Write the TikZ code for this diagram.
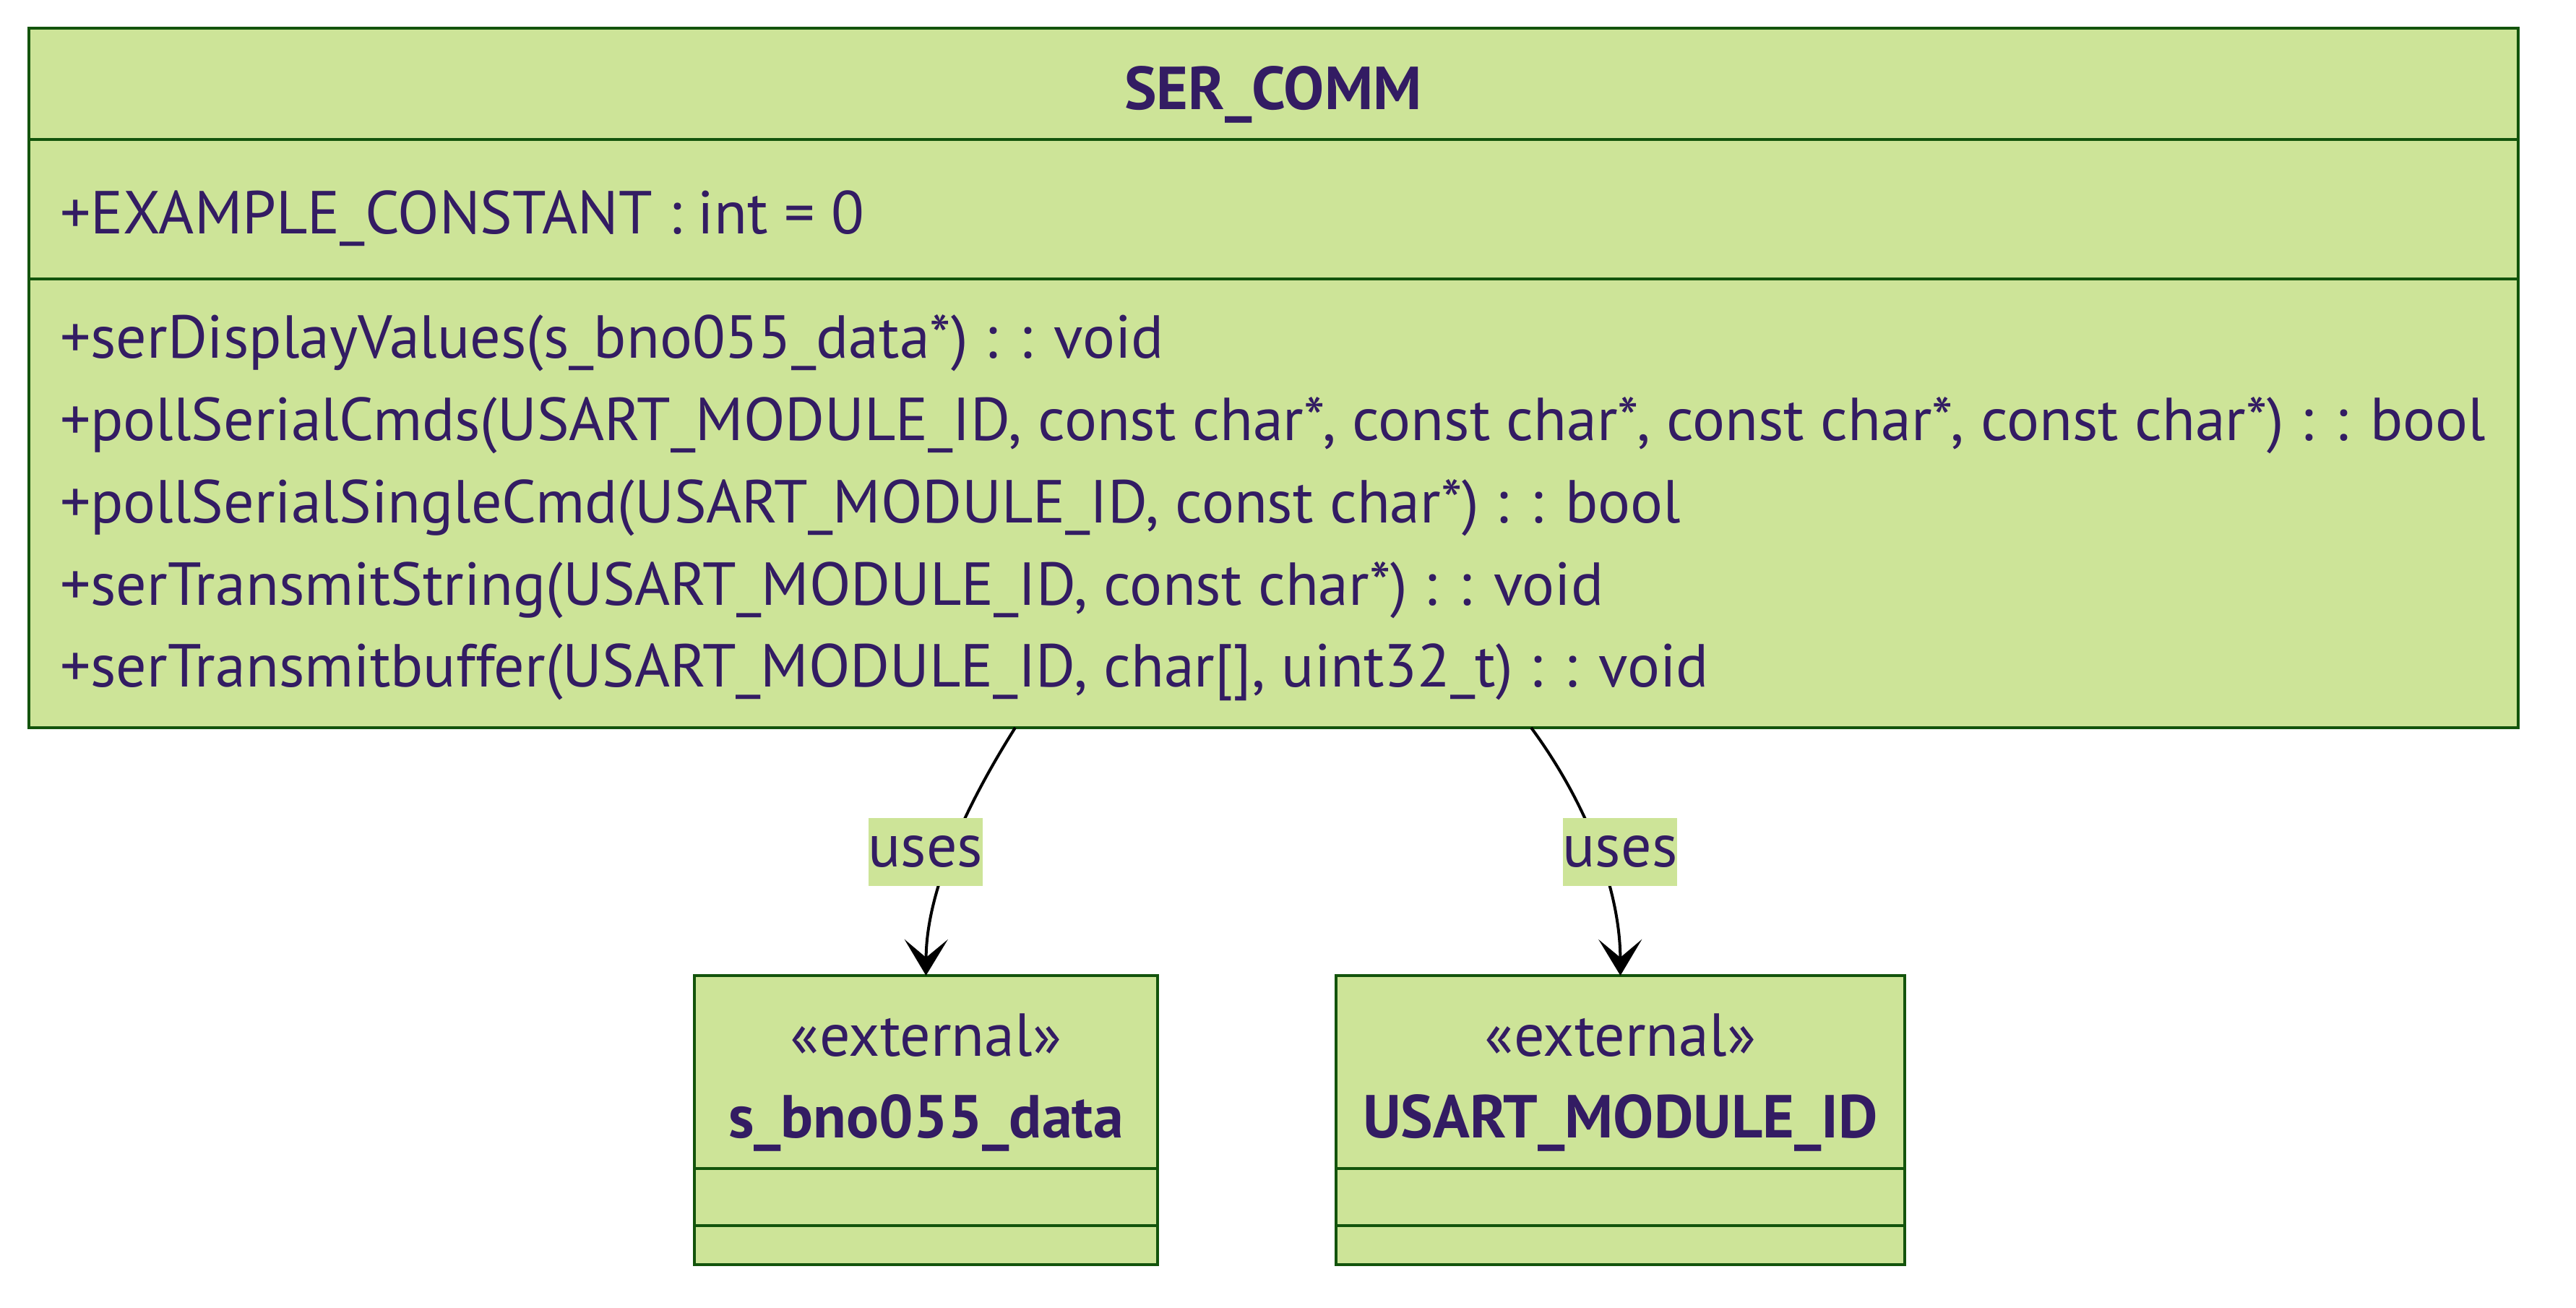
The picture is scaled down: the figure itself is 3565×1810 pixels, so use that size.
\documentclass[tikz,border=0pt]{standalone}
\usepackage{fontspec}
\setmainfont{PT Sans}
\usepackage{tikz}
\usetikzlibrary{positioning, arrows.meta}

\definecolor{umlfill}{HTML}{CDE498}
\definecolor{umlborder}{HTML}{13540C}
\definecolor{umlink}{HTML}{331C63}

\begin{document}
\begin{tikzpicture}[
  x=0.1pt, y=-0.1pt,
  classbox/.style={
     draw=umlborder,
     fill=umlfill,
     line width=0.4pt,
     inner sep=0pt,
     outer sep=0pt},
  member/.style={text=umlink, inner sep=0pt, font=\fontsize{8.4pt}{10pt}\selectfont},
  classname/.style={member, font=\fontsize{8.4pt}{10pt}\selectfont\bfseries},
  edgelabel/.style={fill=umlfill, text=umlink, inner sep=0pt,
     minimum width=14.8pt, minimum height=9.4pt, font=\fontsize{8.4pt}{10pt}\selectfont},
  usesarrow/.style={-{Stealth[length=5pt, width=6pt, inset=2.5pt]}, line width=0.4pt, black}
  ]
  \path[fill=white, use as bounding box] (0,0) rectangle (3565,1810);

  % SER_COMM class
  \node[classbox, anchor=north west, minimum width=344.5pt, minimum height=15.4pt] (serhead) at (40,39) {};
  \node[classbox, below=0pt of serhead, minimum width=344.5pt, minimum height=19.3pt] (serattr) {};
  \node[classbox, below=0pt of serattr, minimum width=344.5pt, minimum height=62.1pt] (sermeth) {};

  \node[classname, anchor=base] (sername) at (1762,152) {SER\_COMM};
  \node[member, anchor=base west] (serconst) at (81,324) {+EXAMPLE\_CONSTANT : int = 0};
  \foreach \txt [count=\i] in {
      {+serDisplayValues(s\_bno055\_data*) : : void},
      {+pollSerialCmds(USART\_MODULE\_ID, const char*, const char*, const char*, const char*) : : bool},
      {+pollSerialSingleCmd(USART\_MODULE\_ID, const char*) : : bool},
      {+serTransmitString(USART\_MODULE\_ID, const char*) : : void},
      {+serTransmitbuffer(USART\_MODULE\_ID, char[], uint32\_t) : : void}}
    \node[member, anchor=base west] (sermeth\i) at (81,{496+113.75*(\i-1)}) {\txt};

  % external classes
  \node[classbox, anchor=north west, minimum width=64.1pt, minimum height=26.7pt] (bnohead) at (961,1350) {};
  \node[classbox, below=0pt of bnohead, minimum width=64.1pt, minimum height=7.9pt] (bnoattr) {};
  \node[classbox, below=0pt of bnoattr, minimum width=64.1pt, minimum height=5.4pt] (bnometh) {};
  \node[member, anchor=base] (bnostereo) at (1281.5,1462) {«external»};
  \node[classname, anchor=base] (bnoname) at (1281.5,1575) {s\_bno055\_data};

  \node[classbox, anchor=north west, minimum width=78.7pt, minimum height=26.7pt] (usarthead) at (1849,1350) {};
  \node[classbox, below=0pt of usarthead, minimum width=78.7pt, minimum height=7.9pt] (usartattr) {};
  \node[classbox, below=0pt of usartattr, minimum width=78.7pt, minimum height=5.4pt] (usartmeth) {};
  \node[member, anchor=base] (usartstereo) at (2242.5,1462) {«external»};
  \node[classname, anchor=base] (usartname) at (2242.5,1575) {USART\_MODULE\_ID};

  % edges
  \coordinate (bnofrom) at (1405,1007);
  \coordinate (usartfrom) at (2119,1007);
  \draw[usesarrow] (bnofrom) .. controls (1340,1110) and (1282,1230) .. (bnohead.north);
  \draw[usesarrow] (usartfrom) .. controls (2195,1110) and (2242,1230) .. (usarthead.north);

  \node[edgelabel] (bnouses) at (1281,1179) {uses};
  \node[edgelabel] (usartuses) at (2242,1179) {uses};

\end{tikzpicture}
\end{document}
